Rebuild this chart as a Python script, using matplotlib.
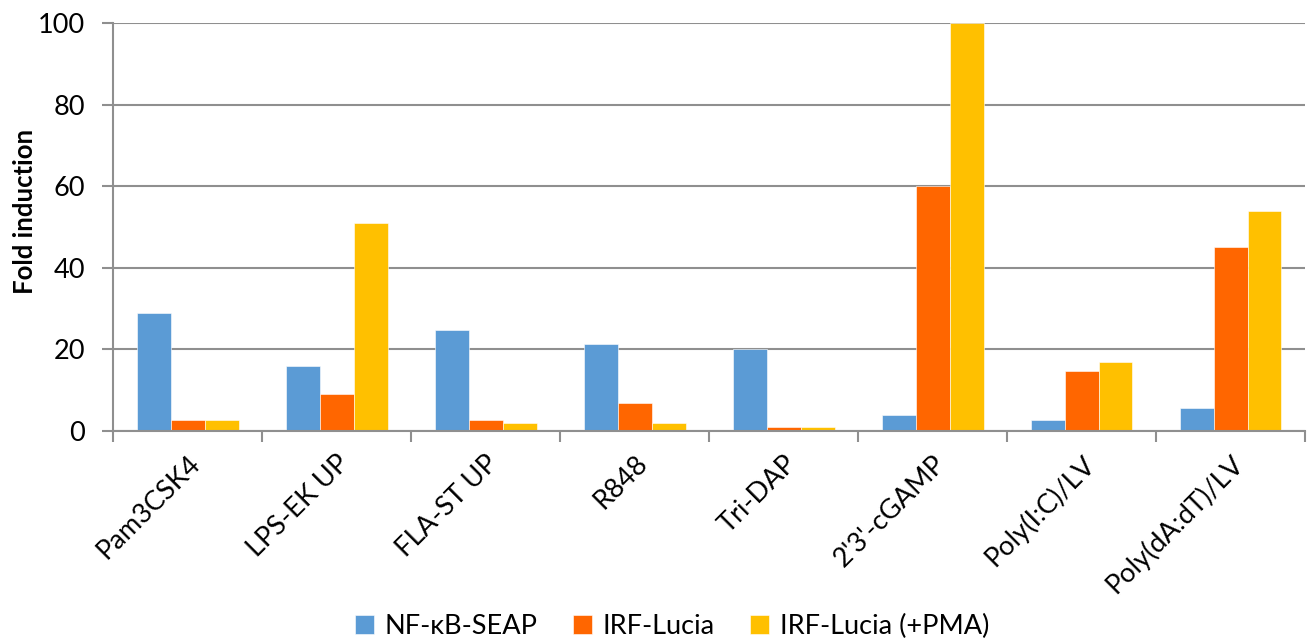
import numpy as np
import matplotlib
matplotlib.use("Agg")
import matplotlib.pyplot as plt

plt.rcParams['font.family'] = ['Lato', 'DejaVu Sans']

categories = ["Pam3CSK4", "LPS-EK UP", "FLA-ST UP", "R848", "Tri-DAP",
              "2'3'-cGAMP", "Poly(I:C)/LV", "Poly(dA:dT)/LV"]
nfkb_seap = [28.8, 16, 24.7, 21.3, 20, 4, 2.7, 5.6]
irf_lucia = [2.7, 9, 2.7, 6.9, 1, 60, 14.7, 45]
irf_lucia_pma = [2.7, 51, 1.9, 1.9, 1, 100, 16.8, 54]

series = [("NF-\u03baB-SEAP", nfkb_seap, "#5B9BD5"),
          ("IRF-Lucia", irf_lucia, "#FF6600"),
          ("IRF-Lucia (+PMA)", irf_lucia_pma, "#FFC000")]

fig = plt.figure(figsize=(13.07, 6.42), dpi=100)
ax = fig.add_axes([0.0865, 0.3287, 0.912, 0.6355])

x = np.arange(len(categories))
w = 0.228
for i, (name, vals, col) in enumerate(series):
    ax.bar(x + (i - 1) * w, vals, width=w, color=col, label=name, zorder=3,
           edgecolor="white", linewidth=0.4)

grid_col = "#8f8f8f"
ax.set_ylim(0, 100)
ax.set_xlim(-0.5, len(categories) - 0.5)
ax.set_yticks(np.arange(0, 101, 20))
ax.yaxis.grid(True, color=grid_col, linewidth=1.5, zorder=0)
for s in ["top", "right"]:
    ax.spines[s].set_visible(False)
ax.spines["left"].set_color(grid_col)
ax.spines["left"].set_linewidth(1.5)
ax.spines["bottom"].set_color(grid_col)
ax.spines["bottom"].set_linewidth(1.5)
ax.spines["bottom"].set_zorder(4)

# category boundary ticks
ax.set_xticks(np.arange(-0.5, len(categories), 1.0))
ax.set_xticklabels([])
ax.tick_params(axis="x", which="major", length=8, width=1.5, color=grid_col)
ax.set_xticks(x, minor=True)
ax.set_xticklabels(categories, minor=True, rotation=45, ha="right",
                   rotation_mode="anchor", fontsize=19.5)
ax.tick_params(axis="x", which="minor", length=0, pad=14)
ax.tick_params(axis="y", length=8, width=1.5, color=grid_col, labelsize=19.5, pad=12)

ax.set_ylabel("Fold induction", fontsize=18.5, fontweight="bold")
ax.yaxis.set_label_coords(-0.064, 0.537)

fig.legend(loc="center", bbox_to_anchor=(0.514, 0.024), ncol=3, frameon=False,
           fontsize=19.5, handlelength=0.7, handleheight=0.7, columnspacing=1.3,
           handletextpad=0.4)

fig.savefig("out.png", dpi=100)
